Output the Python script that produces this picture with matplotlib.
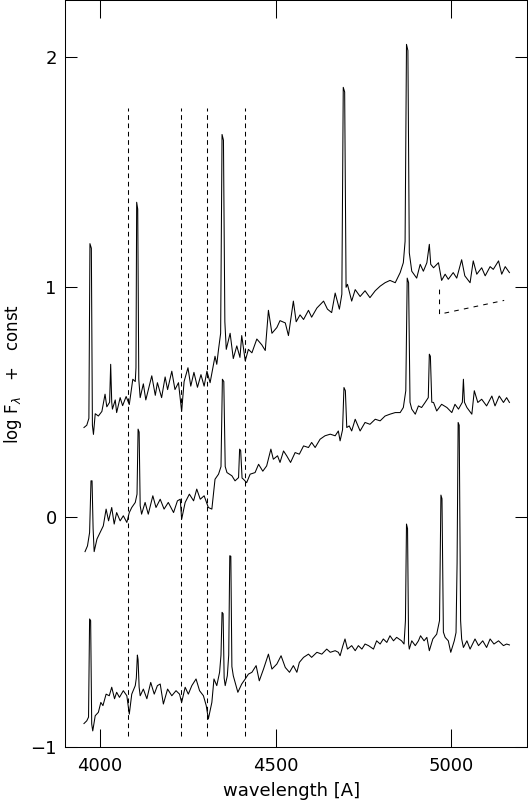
import matplotlib
matplotlib.use("Agg")
import matplotlib.pyplot as plt

# upper spectrum (wavelength in A, log F + const)
wl_top = [3954, 3962, 3968, 3971, 3975, 3978, 3981, 3986, 3995, 4005, 4014, 4019,
          4027, 4030, 4033, 4035, 4043, 4047, 4057, 4064, 4074, 4083, 4093, 4100,
          4102, 4104, 4107, 4110, 4114, 4123, 4130, 4138, 4147, 4157, 4163, 4175,
          4185, 4192, 4204, 4213, 4223, 4232, 4239, 4250, 4258, 4267, 4277, 4287,
          4296, 4304, 4313, 4322, 4327, 4332, 4337, 4343, 4347, 4351, 4355, 4359,
          4370, 4379, 4389, 4398, 4403, 4413, 4422, 4432, 4446, 4460, 4470, 4479,
          4489, 4503, 4512, 4527, 4536, 4550, 4558, 4569, 4579, 4593, 4602, 4617,
          4636, 4647, 4659, 4669, 4681, 4688, 4692, 4696, 4700, 4704, 4716, 4726,
          4740, 4754, 4768, 4783, 4797, 4811, 4825, 4840, 4854, 4863, 4868, 4872,
          4876, 4880, 4887, 4901, 4911, 4920, 4930, 4937, 4941, 4949, 4963, 4972,
          4982, 4991, 5005, 5015, 5029, 5038, 5053, 5062, 5072, 5086, 5096, 5110,
          5119, 5134, 5143, 5153, 5165]
flux_top = [0.39, 0.40, 0.43, 1.19, 1.17, 0.40, 0.36, 0.45, 0.44, 0.46, 0.535, 0.48,
            0.50, 0.665, 0.50, 0.47, 0.51, 0.455, 0.52, 0.485, 0.525, 0.49, 0.60, 0.59,
            0.65, 1.37, 1.34, 0.60, 0.52, 0.58, 0.51, 0.56, 0.615, 0.53, 0.585, 0.52,
            0.61, 0.555, 0.635, 0.555, 0.585, 0.46, 0.59, 0.65, 0.57, 0.63, 0.565, 0.62,
            0.57, 0.635, 0.585, 0.66, 0.70, 0.665, 0.73, 0.80, 1.665, 1.64, 0.85, 0.73,
            0.80, 0.69, 0.745, 0.695, 0.79, 0.68, 0.73, 0.715, 0.775, 0.75, 0.725, 0.90,
            0.80, 0.825, 0.855, 0.845, 0.79, 0.94, 0.85, 0.88, 0.86, 0.90, 0.87, 0.91,
            0.94, 0.905, 0.89, 0.975, 0.905, 0.97, 1.87, 1.85, 1.00, 1.013, 0.94, 0.99,
            0.96, 0.985, 0.955, 0.985, 1.005, 1.02, 1.03, 1.02, 1.064, 1.107, 1.20, 2.057,
            2.03, 1.15, 1.07, 1.04, 1.10, 1.07, 1.107, 1.187, 1.10, 1.085, 1.107, 1.03,
            1.057, 1.035, 1.064, 1.04, 1.12, 1.05, 1.02, 1.115, 1.057, 1.085, 1.05, 1.09,
            1.078, 1.115, 1.057, 1.09, 1.064]

# middle spectrum
wl_mid = [3957, 3964, 3970, 3974, 3977, 3980, 3983, 3991, 4000, 4009, 4017, 4024,
          4033, 4040, 4047, 4057, 4066, 4076, 4083, 4090, 4100, 4105, 4108, 4111,
          4114, 4118, 4128, 4137, 4150, 4159, 4171, 4182, 4194, 4209, 4220, 4228,
          4232, 4242, 4254, 4266, 4275, 4285, 4296, 4308, 4318, 4327, 4337, 4344,
          4348, 4352, 4356, 4361, 4375, 4384, 4394, 4397, 4400, 4404, 4408, 4417,
          4427, 4441, 4451, 4463, 4474, 4486, 4493, 4505, 4512, 4522, 4531, 4542,
          4555, 4567, 4579, 4593, 4602, 4612, 4626, 4640, 4655, 4669, 4678, 4683,
          4690, 4694, 4698, 4702, 4709, 4716, 4726, 4740, 4754, 4768, 4783, 4797,
          4811, 4825, 4840, 4854, 4863, 4870, 4874, 4878, 4882, 4887, 4897, 4906,
          4915, 4925, 4934, 4937, 4940, 4944, 4949, 4958, 4972, 4987, 5001, 5010,
          5020, 5031, 5034, 5037, 5044, 5058, 5065, 5075, 5086, 5100, 5115, 5124,
          5136, 5148, 5157, 5165]
flux_mid = [-0.15, -0.125, -0.067, 0.158, 0.158, -0.05, -0.15, -0.095, -0.067, -0.038, 0.035, -0.016,
            0.042, -0.03, 0.02, -0.016, 0.006, -0.023, 0.02, 0.042, 0.064, 0.10, 0.383, 0.37,
            0.05, 0.013, 0.064, 0.013, 0.093, 0.042, 0.078, 0.035, 0.064, 0.02, 0.071, 0.078,
            -0.009, 0.064, 0.10, 0.071, 0.122, 0.078, 0.093, 0.042, 0.035, 0.165, 0.187, 0.22,
            0.60, 0.59, 0.22, 0.194, 0.18, 0.158, 0.172, 0.296, 0.29, 0.17, 0.165, 0.15,
            0.187, 0.194, 0.23, 0.20, 0.223, 0.296, 0.252, 0.267, 0.238, 0.288, 0.267, 0.238,
            0.281, 0.274, 0.31, 0.303, 0.325, 0.303, 0.339, 0.354, 0.361, 0.354, 0.375, 0.332,
            0.38, 0.564, 0.55, 0.39, 0.397, 0.375, 0.426, 0.375, 0.412, 0.404, 0.426, 0.419,
            0.44, 0.448, 0.455, 0.455, 0.477, 0.55, 1.04, 1.02, 0.50, 0.47, 0.448, 0.484,
            0.477, 0.499, 0.52, 0.709, 0.70, 0.50, 0.499, 0.462, 0.491, 0.477, 0.455, 0.491,
            0.47, 0.50, 0.60, 0.50, 0.477, 0.448, 0.55, 0.499, 0.513, 0.484, 0.527, 0.484,
            0.527, 0.499, 0.52, 0.499]

# lower spectrum
wl_low = [3954, 3962, 3967, 3970, 3973, 3976, 3979, 3986, 3995, 4002, 4008, 4017,
          4026, 4033, 4041, 4047, 4055, 4066, 4076, 4083, 4090, 4100, 4103, 4106,
          4108, 4111, 4114, 4123, 4133, 4144, 4154, 4163, 4171, 4180, 4192, 4204,
          4216, 4226, 4232, 4242, 4251, 4261, 4273, 4283, 4294, 4302, 4308, 4318,
          4324, 4332, 4340, 4344, 4347, 4350, 4353, 4356, 4362, 4366, 4369, 4372,
          4375, 4379, 4392, 4403, 4413, 4422, 4432, 4444, 4453, 4465, 4479, 4489,
          4503, 4515, 4527, 4539, 4550, 4560, 4567, 4579, 4593, 4602, 4617, 4631,
          4645, 4655, 4669, 4678, 4683, 4691, 4697, 4704, 4716, 4726, 4735, 4745,
          4754, 4764, 4778, 4787, 4797, 4806, 4816, 4825, 4835, 4844, 4858, 4865,
          4869, 4872, 4875, 4878, 4880, 4887, 4897, 4906, 4912, 4922, 4930, 4937,
          4947, 4958, 4966, 4970, 4973, 4977, 4982, 4991, 4998, 5008, 5013, 5016,
          5019, 5022, 5026, 5029, 5034, 5044, 5053, 5067, 5077, 5089, 5100, 5110,
          5121, 5134, 5148, 5157, 5165]
flux_low = [-0.898, -0.886, -0.87, -0.443, -0.45, -0.90, -0.93, -0.864, -0.849, -0.806, -0.82, -0.77,
            -0.777, -0.74, -0.79, -0.762, -0.784, -0.755, -0.777, -0.857, -0.77, -0.733, -0.70, -0.60,
            -0.62, -0.74, -0.777, -0.748, -0.79, -0.719, -0.77, -0.733, -0.726, -0.813, -0.748, -0.777,
            -0.755, -0.77, -0.806, -0.74, -0.77, -0.733, -0.704, -0.755, -0.777, -0.82, -0.878, -0.806,
            -0.704, -0.733, -0.675, -0.60, -0.414, -0.42, -0.70, -0.733, -0.69, -0.60, -0.168, -0.17,
            -0.65, -0.69, -0.762, -0.726, -0.704, -0.683, -0.675, -0.646, -0.712, -0.661, -0.596, -0.661,
            -0.639, -0.603, -0.654, -0.675, -0.646, -0.675, -0.632, -0.61, -0.596, -0.61, -0.588, -0.596,
            -0.574, -0.588, -0.581, -0.588, -0.603, -0.559, -0.53, -0.574, -0.559, -0.581, -0.559, -0.574,
            -0.552, -0.559, -0.574, -0.538, -0.552, -0.53, -0.545, -0.516, -0.538, -0.523, -0.538, -0.552,
            -0.45, -0.03, -0.05, -0.55, -0.574, -0.538, -0.559, -0.538, -0.516, -0.538, -0.523, -0.581,
            -0.53, -0.509, -0.45, 0.096, 0.08, -0.50, -0.523, -0.538, -0.588, -0.538, -0.502, -0.20,
            0.412, 0.40, -0.45, -0.53, -0.567, -0.538, -0.574, -0.53, -0.559, -0.538, -0.567, -0.53,
            -0.552, -0.538, -0.559, -0.552, -0.556]

# marked absorption features
line_wl = [4080, 4231, 4305, 4413]
line_lo, line_hi = -0.95, 1.78

# dashed continuum marker on the upper spectrum
marker_wl = [4966, 4966, 5150]
marker_flux = [0.99, 0.883, 0.943]

fig = plt.figure(figsize=(5.28, 8.02), dpi=100)
ax = fig.add_axes([65 / 528, 1 - 747 / 802, 462 / 528, 747 / 802])

for wl, fl in ((wl_top, flux_top), (wl_mid, flux_mid), (wl_low, flux_low)):
    ax.plot(wl, fl, color="black", linewidth=0.75)

for w in line_wl:
    ax.plot([w, w], [line_lo, line_hi], color="black", linewidth=0.75,
            dashes=(4.5, 3.5))
ax.plot(marker_wl, marker_flux, color="black", linewidth=0.75, dashes=(4.5, 5))

ax.set_xlim(3900, 5215)
ax.set_ylim(-1, 2.25)
ax.set_xticks([4000, 4500, 5000])
ax.set_yticks([-1, 0, 1, 2])
ax.tick_params(direction="in", top=True, right=True, width=0.75,
               labelsize=13, color="black")
ax.tick_params(axis="x", length=13, pad=7)
ax.tick_params(axis="y", length=8.6, pad=6)
for sp in ax.spines.values():
    sp.set_linewidth(0.75)

ax.set_xlabel("wavelength [A]", fontsize=13)
ax.xaxis.set_label_coords(0.49, -0.047)
ax.set_ylabel(r"log F$_\lambda$   +   const", fontsize=12)
ax.yaxis.set_label_coords(-0.088, 0.5)

fig.savefig("out.png", dpi=100)
